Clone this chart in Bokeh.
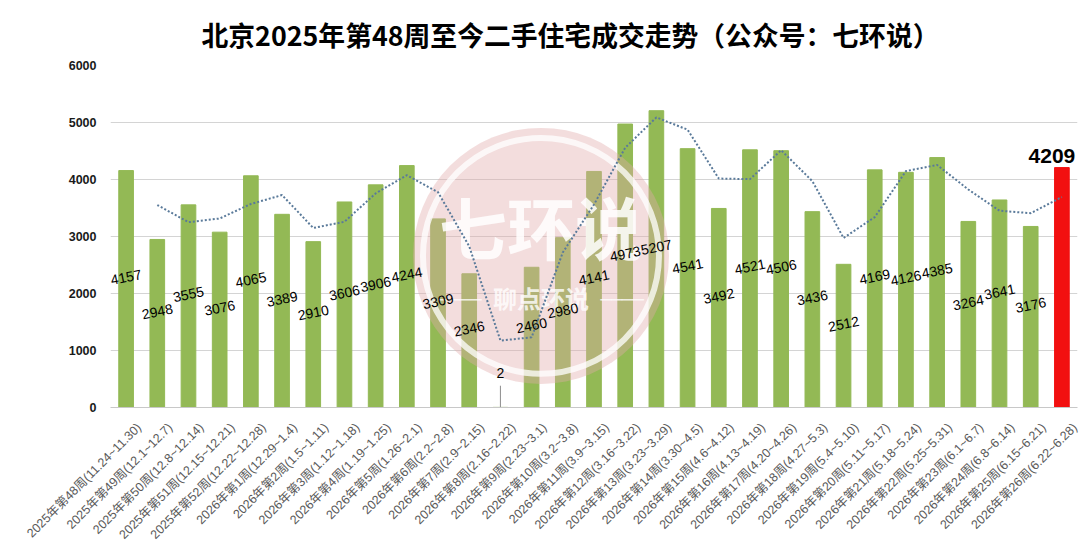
import math
from bokeh.plotting import figure
from bokeh.models import (Range1d, ColumnDataSource, SingleIntervalTicker,
                          LinearAxis, FixedTicker)
from bokeh.core.properties import value
from bokeh.embed import file_html
from bokeh.resources import INLINE

# ---------------- data ----------------
weeks = [
    "2025年第48周(11.24~11.30)", "2025年第49周(12.1~12.7)", "2025年第50周(12.8~12.14)",
    "2025年第51周(12.15~12.21)", "2025年第52周(12.22~12.28)", "2026年第1周(12.29~1.4)",
    "2026年第2周(1.5~1.11)", "2026年第3周(1.12~1.18)", "2026年第4周(1.19~1.25)",
    "2026年第5周(1.26~2.1)", "2026年第6周(2.2~2.8)", "2026年第7周(2.9~2.15)",
    "2026年第8周(2.16~2.22)", "2026年第9周(2.23~3.1)", "2026年第10周(3.2~3.8)",
    "2026年第11周(3.9~3.15)", "2026年第12周(3.16~3.22)", "2026年第13周(3.23~3.29)",
    "2026年第14周(3.30~4.5)", "2026年第15周(4.6~4.12)", "2026年第16周(4.13~4.19)",
    "2026年第17周(4.20~4.26)", "2026年第18周(4.27~5.3)", "2026年第19周(5.4~5.10)",
    "2026年第20周(5.11~5.17)", "2026年第21周(5.18~5.24)", "2026年第22周(5.25~5.31)",
    "2026年第23周(6.1~6.7)", "2026年第24周(6.8~6.14)", "2026年第25周(6.15~6.21)",
    "2026年第26周(6.22~6.28)",
]
sales = [4157, 2948, 3555, 3076, 4065, 3389, 2910, 3606, 3906, 4244, 3309, 2346, 2,
         2460, 2980, 4141, 4973, 5207, 4541, 3492, 4521, 4506, 3436, 2512, 4169,
         4126, 4385, 3264, 3641, 3176, 4209]
y_ticks_step = 1000
y_max = 6000
title_text = "北京2025年第48周至今二手住宅成交走势（公众号：七环说）"
watermark_main = "七环说"
watermark_sub = "聊点环说"

# ---------------- styles ----------------
GREEN = "#93b955"
RED = "#f21010"
TREND = "#5a7a9a"
SANS = "Liberation Sans, Noto Sans CJK SC"
CJK = "Noto Sans CJK SC"
LEADER_LEN = 380      # length of the label leader line (data units)
LABEL_SHIFT = 0.42    # rightward shift of category labels (in category widths)

n = len(sales)
last = n - 1
pos = list(range(n))          # category positions on the x scale
colors = [GREEN] * (n - 1) + [RED]

bars = ColumnDataSource(dict(x=pos, sales=sales, color=colors))

# 2-period moving average trendline (as in the original Excel chart)
ma_x = pos[1:]
ma_y = [(sales[i - 1] + sales[i]) / 2 for i in range(1, n)]

# data labels (all except highlighted last bar)
lab_idx = [i for i in range(n - 1) if sales[i] >= 500]
small_idx = [i for i in range(n - 1) if sales[i] < 500]
labels = ColumnDataSource(dict(
    x=[pos[i] for i in lab_idx],
    y=[sales[i] / 2 for i in lab_idx],
    txt=[str(sales[i]) for i in lab_idx],
))
small = ColumnDataSource(dict(
    x=[pos[i] for i in small_idx],
    y=[sales[i] for i in small_idx],
    ytop=[sales[i] + LEADER_LEN for i in small_idx],
    txt=[str(sales[i]) for i in small_idx],
))

p = figure(
    x_range=Range1d(-0.5, n - 0.5),
    y_range=Range1d(0, y_max),
    width=1080, height=550,
    output_backend="svg", toolbar_location=None,
    x_axis_location=None,
    min_border_left=110, min_border_right=3, min_border_top=64, min_border_bottom=143,
    background_fill_color="white", border_fill_color="white",
    outline_line_color=None,
)

# title
p.title.text = title_text
p.title.text_font = CJK
p.title.text_font_size = "26.8px"
p.title.text_font_style = "bold"
p.title.text_color = "#000000"
p.title.align = "left"
p.title.offset = 91
p.title.standoff = 24

# bars
p.vbar(x="x", top="sales", width=0.47, color="color", source=bars)

# watermark (decorative)
wm_x, wm_y = 13.3, 2660
p.circle(x=[wm_x], y=[wm_y], radius=128, radius_units="screen",
         fill_color="#e2a9a9", fill_alpha=0.40, line_color=None)
p.circle(x=[wm_x], y=[wm_y], radius=118, radius_units="screen",
         fill_color=None, line_color="white", line_alpha=0.75, line_width=6)
p.text(x=[wm_x], y=[wm_y], text=[watermark_main], text_font=value(CJK),
       text_font_style="bold", text_font_size="68px", text_color="white", text_alpha=0.85,
       text_align="center", text_baseline="middle", y_offset=-30)
p.text(x=[wm_x], y=[wm_y], text=[watermark_sub], text_font=value(CJK),
       text_font_style="bold", text_font_size="24px", text_color="white", text_alpha=0.8,
       text_align="center", text_baseline="middle", y_offset=42)
p.text(x=[wm_x - 2.6, wm_x + 2.6], y=[wm_y, wm_y], text=["────", "────"],
       text_font=value("DejaVu Sans"), text_font_size="18px", text_color="white",
       text_alpha=0.8, text_align="center", text_baseline="middle", y_offset=44)

# trendline
p.line(x=ma_x, y=ma_y, line_color=TREND, line_width=2, line_dash="2 2")

# data labels
p.text(x="x", y="y", text="txt", source=labels, angle=0.2,
       text_font=value("Liberation Sans"), text_font_size="14px", text_color="#000000",
       text_align="center", text_baseline="middle", y_offset=-12)
p.segment(x0="x", y0="y", x1="x", y1="ytop",
          source=small, line_color="#8c8c8c", line_width=1)
p.text(x="x", y="y", text="txt", source=small,
       text_font=value("Liberation Sans"), text_font_size="14px", text_color="#000000",
       text_align="center", text_baseline="middle", y_offset=-34)

# highlighted last value
p.text(x=[pos[last]], y=[sales[last]], text=[str(sales[last])],
       text_font=value("Liberation Sans"), text_font_style="bold", text_font_size="21px",
       text_color="#000000", text_align="center", text_baseline="bottom",
       y_offset=-5, x_offset=-10)

# category axis: helper range shifted so labels sit Excel-style right of bars
p.extra_x_ranges = {"lab": Range1d(start=-0.5 - LABEL_SHIFT, end=n - 0.5 - LABEL_SHIFT)}
xax = LinearAxis(x_range_name="lab",
                 ticker=FixedTicker(ticks=pos),
                 major_label_overrides={i: wk for i, wk in zip(pos, weeks)})
xax.axis_line_color = "#c8c8c8"
xax.major_tick_line_color = None
xax.minor_tick_line_color = None
xax.major_label_orientation = math.pi / 4
xax.major_label_text_font = SANS
xax.major_label_text_font_size = "12.5px"
xax.major_label_text_color = "#595959"
xax.major_label_standoff = 12
p.add_layout(xax, "below")

# y axis
p.yaxis.ticker = SingleIntervalTicker(interval=y_ticks_step)
p.yaxis.axis_line_color = None
p.yaxis.major_tick_line_color = None
p.yaxis.minor_tick_line_color = None
p.yaxis.major_label_text_font = SANS
p.yaxis.major_label_text_font_size = "12.5px"
p.yaxis.major_label_text_font_style = "bold"
p.yaxis.major_label_text_color = "#1a1a1a"
p.yaxis.major_label_standoff = 8

p.xgrid.grid_line_color = None
p.ygrid.grid_line_color = "#d4d4d4"
p.ygrid.grid_line_width = 1

open("out.html", "w").write(file_html(p, INLINE))
